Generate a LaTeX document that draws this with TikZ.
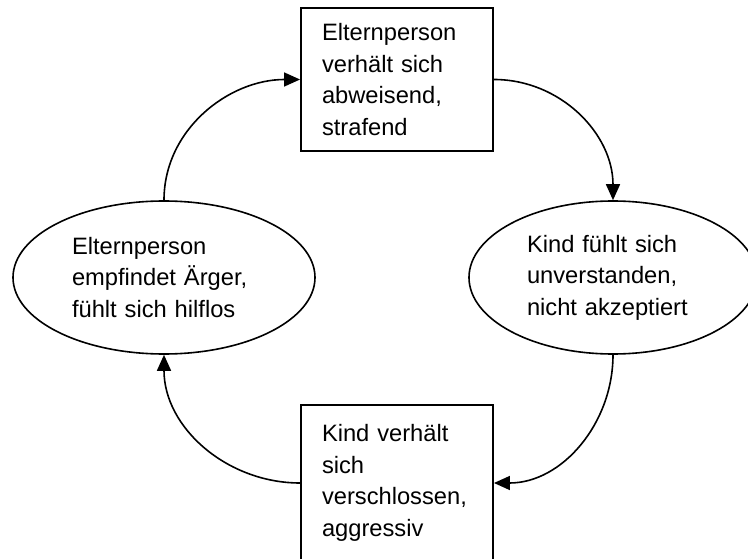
\documentclass[tikz,border=0pt]{standalone}
\usepackage{fontspec}
\setmainfont{Liberation Sans}
\usetikzlibrary{shapes.geometric,arrows.meta}
\begin{document}
\begin{tikzpicture}[x=1pt,y=1pt,
  every node/.style={font=\fontsize{23.7}{31.5}\selectfont},
  boxnode/.style={draw, line width=1.9pt, rectangle, minimum width=192pt, inner xsep=21pt, inner ysep=0pt, text width=150pt, align=left},
  ellnode/.style={draw, line width=1.6pt, ellipse, inner sep=0pt, align=left},
  arr/.style={line width=1.6pt, -{Triangle[length=16pt,width=14pt]}}]
\useasboundingbox (0,0) rectangle (748,-559);
\node[boxnode, minimum height=143pt] (tb) at (397,-79.5) {Elternperson\\verhält sich\\abweisend,\\strafend};
\node[ellnode, minimum width=288pt, minimum height=153pt, text width=172pt] (re) at (613,-277.5) {Kind fühlt sich\\unverstanden,\\nicht akzeptiert};
\node[ellnode, minimum width=302pt, minimum height=153pt, text width=184pt] (le) at (164,-277.5) {Elternperson\\empfindet Ärger,\\fühlt sich hilflos};
\node[boxnode, minimum height=156pt] (bb) at (397,-483) {Kind verhält\\sich\\verschlossen,\\aggressiv};
\draw[arr] (tb.east) to[out=0,in=90] (re.north);
\draw[arr] (re.south) to[out=-90,in=0] (bb.east);
\draw[arr] (bb.west) to[out=180,in=-90] (le.south);
\draw[arr] (le.north) to[out=90,in=180] (tb.west);
\end{tikzpicture}
\end{document}
